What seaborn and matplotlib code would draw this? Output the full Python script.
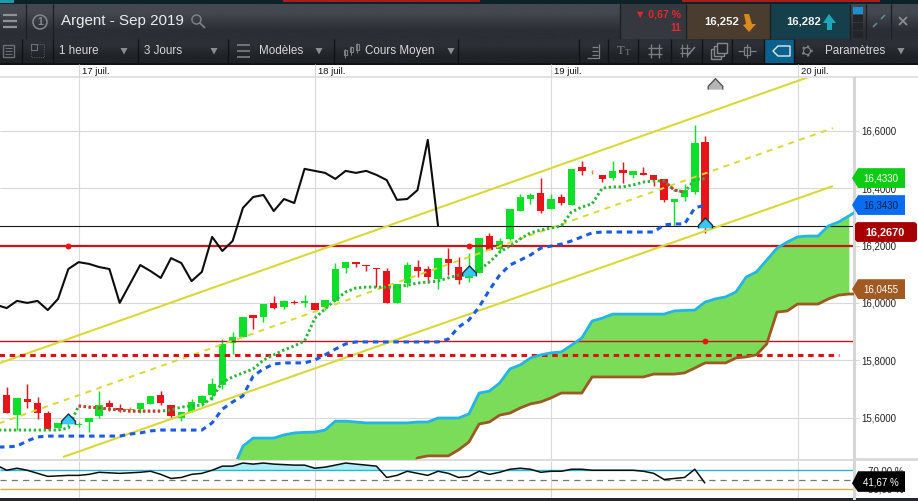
import numpy as np
import matplotlib
matplotlib.use("Agg")
import matplotlib.pyplot as plt
from matplotlib.patches import Rectangle, Polygon, Circle
from matplotlib.transforms import ScaledTranslation
import seaborn as sns

# Hourly candles, hour -8 is the first one cut by the left edge
opens = [15.620, 15.679, 15.609, 15.665, 15.651, 15.616, 15.564, 15.578, 15.575, 15.585,
         15.606, 15.651, 15.634, 15.630, 15.630, 15.648, 15.679, 15.644, 15.599, 15.620,
         15.651, 15.679, 15.714, 15.860, 15.881, 15.958, 15.951, 16.000, 15.986, 16.003,
         16.001, 16.000, 15.986, 16.007, 16.122, 16.142, 16.132, 16.122, 16.111, 16.000,
         16.069, 16.125, 16.118, 16.083, 16.153, 16.125, 16.087, 16.104, 16.233, 16.188,
         16.223, 16.320, 16.362, 16.383, 16.327, 16.369, 16.341, 16.473, 16.453, 16.446,
         16.435, 16.463, 16.446, 16.453, 16.446, 16.432, 16.352, 16.369, 16.386, 16.561]
highs = [15.686, 15.707, 15.669, 15.717, 15.672, 15.623, 15.582, 15.595, 15.585, 15.599,
         15.693, 15.662, 15.648, 15.637, 15.651, 15.676, 15.693, 15.644, 15.620, 15.665,
         15.679, 15.738, 15.874, 15.899, 15.951, 15.958, 15.996, 16.024, 16.010, 16.010,
         16.027, 16.000, 16.010, 16.139, 16.142, 16.142, 16.132, 16.122, 16.122, 16.066,
         16.142, 16.149, 16.129, 16.156, 16.191, 16.160, 16.174, 16.226, 16.244, 16.226,
         16.327, 16.379, 16.383, 16.435, 16.379, 16.379, 16.467, 16.494, 16.463, 16.446,
         16.494, 16.491, 16.460, 16.473, 16.446, 16.432, 16.362, 16.414, 16.620, 16.581]
lows = [15.620, 15.616, 15.557, 15.634, 15.595, 15.561, 15.564, 15.571, 15.568, 15.550,
        15.599, 15.623, 15.620, 15.627, 15.616, 15.648, 15.644, 15.599, 15.588, 15.620,
        15.641, 15.662, 15.700, 15.822, 15.881, 15.909, 15.933, 15.979, 15.979, 15.996,
        15.986, 15.975, 15.975, 16.007, 16.104, 16.125, 16.111, 16.055, 16.000, 16.000,
        16.055, 16.090, 16.069, 16.049, 16.097, 16.066, 16.073, 16.104, 16.184, 16.177,
        16.219, 16.320, 16.345, 16.313, 16.327, 16.341, 16.341, 16.446, 16.449, 16.421,
        16.428, 16.418, 16.435, 16.446, 16.407, 16.352, 16.268, 16.355, 16.379, 16.244]
closes = [15.686, 15.616, 15.669, 15.655, 15.616, 15.561, 15.582, 15.588, 15.578, 15.599,
          15.644, 15.637, 15.627, 15.628, 15.651, 15.676, 15.651, 15.606, 15.620, 15.655,
          15.676, 15.717, 15.857, 15.881, 15.951, 15.947, 15.996, 15.982, 16.007, 16.000,
          16.005, 15.975, 16.010, 16.118, 16.142, 16.136, 16.129, 16.118, 16.000, 16.066,
          16.132, 16.111, 16.090, 16.156, 16.139, 16.080, 16.097, 16.226, 16.184, 16.216,
          16.327, 16.369, 16.376, 16.320, 16.362, 16.348, 16.467, 16.460, 16.451, 16.432,
          16.460, 16.453, 16.460, 16.446, 16.428, 16.359, 16.362, 16.393, 16.557, 16.267]

tenkan = [15.557, 15.557, 15.557, 15.557, 15.557, 15.557, 15.557, 15.564, 15.641, 15.637,
          15.634, 15.630, 15.627, 15.623, 15.623, 15.623, 15.623, 15.627, 15.637, 15.641,
          15.644, 15.669, 15.724, 15.742, 15.756, 15.770, 15.801, 15.819, 15.836, 15.850,
          15.867, 15.947, 15.979, 16.010, 16.038, 16.052, 16.055, 16.055, 16.055, 16.055,
          16.062, 16.069, 16.073, 16.076, 16.087, 16.097, 16.097, 16.115, 16.142, 16.177,
          16.198, 16.223, 16.244, 16.254, 16.261, 16.268, 16.317, 16.334, 16.345, 16.400,
          16.404, 16.404, 16.411, 16.421, 16.425, 16.425, 16.393, 16.386, 16.430, 16.433]
kijun = [15.498, 15.498, 15.501, 15.519, 15.533, 15.536, 15.536, 15.536, 15.536, 15.536,
         15.536, 15.536, 15.536, 15.543, 15.547, 15.554, 15.557, 15.557, 15.557, 15.557,
         15.557, 15.582, 15.630, 15.655, 15.676, 15.745, 15.770, 15.787, 15.791, 15.791,
         15.791, 15.801, 15.819, 15.839, 15.857, 15.864, 15.864, 15.864, 15.864, 15.864,
         15.864, 15.864, 15.864, 15.864, 15.874, 15.916, 15.940, 15.986, 16.045, 16.097,
         16.132, 16.149, 16.167, 16.191, 16.198, 16.205, 16.216, 16.230, 16.244, 16.247,
         16.247, 16.247, 16.247, 16.247, 16.247, 16.272, 16.275, 16.275, 16.331, 16.341]
# Lagging line stops at hour 35
chikou = [15.993, 15.982, 16.007, 16.000, 16.007, 15.975, 16.014, 16.118, 16.142, 16.136,
          16.125, 16.118, 16.000, 16.066, 16.132, 16.111, 16.087, 16.156, 16.139, 16.076,
          16.108, 16.230, 16.181, 16.216, 16.331, 16.369, 16.376, 16.320, 16.362, 16.348,
          16.467, 16.460, 16.453, 16.432, 16.460, 16.453, 16.460, 16.446, 16.428, 16.359,
          16.362, 16.393, 16.568, 16.268]
# Cloud runs from hour 15 to hour 76
span_a = [15.418, 15.501, 15.529, 15.529, 15.529, 15.540, 15.547, 15.549, 15.550, 15.557,
          15.588, 15.588, 15.585, 15.582, 15.582, 15.582, 15.582, 15.582, 15.585, 15.585,
          15.599, 15.599, 15.599, 15.613, 15.686, 15.693, 15.721, 15.770, 15.784, 15.808,
          15.819, 15.826, 15.829, 15.853, 15.878, 15.937, 15.947, 15.961, 15.961, 15.961,
          15.961, 15.961, 15.961, 15.972, 15.974, 15.975, 16.003, 16.014, 16.021, 16.038,
          16.090, 16.108, 16.149, 16.191, 16.212, 16.230, 16.233, 16.233, 16.268, 16.282,
          16.303, 16.324]
span_b = [15.400, 15.400, 15.400, 15.400, 15.400, 15.400, 15.400, 15.400, 15.400, 15.400,
          15.400, 15.400, 15.400, 15.400, 15.400, 15.400, 15.400, 15.400, 15.460, 15.467,
          15.467, 15.467, 15.488, 15.515, 15.578, 15.585, 15.609, 15.616, 15.634, 15.648,
          15.655, 15.669, 15.686, 15.686, 15.686, 15.742, 15.742, 15.742, 15.742, 15.742,
          15.742, 15.752, 15.752, 15.752, 15.756, 15.773, 15.791, 15.791, 15.791, 15.808,
          15.812, 15.819, 15.857, 15.968, 15.972, 15.996, 15.996, 15.996, 16.014, 16.027,
          16.031, 16.031]
oscillator = [81.1, 70.0, 74.4, 70.0, 63.3, 56.7, 57.8, 58.9, 58.9, 61.1,
              65.6, 64.4, 63.3, 64.4, 65.6, 67.8, 61.1, 52.2, 54.4, 61.1,
              63.3, 70.0, 78.9, 78.9, 85.6, 83.3, 85.6, 83.3, 82.2, 81.1,
              81.1, 74.4, 76.7, 81.1, 85.6, 83.3, 81.1, 78.9, 54.4, 58.9,
              67.8, 63.3, 58.9, 67.8, 63.3, 54.4, 56.7, 67.8, 61.1, 65.6,
              72.2, 74.4, 72.2, 65.6, 67.8, 67.8, 72.2, 72.2, 70.0, 70.0,
              70.0, 70.0, 70.0, 67.8, 63.3, 50.0, 52.2, 54.4, 72.2, 41.67]

channel_upper_h = [-8, 71.4]
channel_upper = [15.786, 16.791]
channel_mid_h = [-8, 73.45]
channel_mid = [15.577, 16.609]
channel_lower_h = [-1.52, 73.45]
channel_lower = [15.463, 16.407]

last_price = 16.267
level_thick = 16.2
level_thin = 15.868
level_dashed = 15.818
level_dashed_end = 74
dots_h = [-1, 38, 61]
dots_y = [16.2, 16.2, 15.868]
signals_h = [-1, 38, 61]
signals_y = [15.594, 16.111, 16.280]
top_signal_h = [62]
top_signal_y = [16.762]

day_ticks = [0, 23, 46, 70]
day_labels = ["17 juil.", "18 juil.", "19 juil.", "20 juil."]
price_ticks = [15.6, 15.8, 16.0, 16.2, 16.4, 16.6]
price_labels = ["15,6000", "15,8000", "16,0000", "16,2000", "16,4000", "16,6000"]
osc_ticks = [30, 70]
osc_labels = ["30,00 %", "70,00 %"]

hours = np.arange(-8, 62)
cloud_hours = np.arange(15, 77)
chikou_hours = np.arange(-8, 36)

sns.set_theme(style="white")
plt.rcParams["font.family"] = ["Liberation Sans", "DejaVu Sans"]
plt.rcParams["lines.solid_capstyle"] = "butt"

W, H = 918, 501
fig = plt.figure(figsize=(W / 100, H / 100), dpi=100, facecolor="white")

# Toolbar and frame, in pixels
chrome = fig.add_axes([0, 0, 1, 1], zorder=0)
chrome.set_axis_off()


def box(x0, y0, x1, y1, color, **kw):
    chrome.add_patch(Rectangle((x0, y0), x1 - x0, y1 - y0, fc=color, ec="none", **kw))


def shade(x0, y0, x1, y1, top, bottom):
    grad = np.array([[matplotlib.colors.to_rgb(top)], [matplotlib.colors.to_rgb(bottom)]])
    chrome.imshow(grad, extent=(x0, x1, y1, y0), aspect="auto", interpolation="bilinear", zorder=1)


def label(x, y, s, size=8.4, color="#d8d8d8", ha="left", **kw):
    chrome.text(x, y, s, fontsize=size, color=color, ha=ha, va="center", zorder=4, **kw)


def tri(x, y, color="#8a8d92"):
    chrome.add_patch(Polygon([(x - 3.5, y - 3), (x + 3.5, y - 3), (x, y + 3.5)], fc=color, ec="none", zorder=4))


def stroke(xs, ys, color="#8a8d92", lw=1.0):
    chrome.plot(xs, ys, color=color, lw=lw, zorder=4)


box(0, 0, W, 4, "#0d2229", zorder=2)
box(0, 0, 14, 3, "#1c9aa8", zorder=3)
box(283, 0, 480, 2, "#a81c1c", zorder=3)
box(682, 0, 880, 2, "#a81c1c", zorder=3)
shade(0, 4, W, 39, "#43474f", "#2b2e34")
shade(0, 39, W, 63, "#2c2f35", "#1f2226")
box(0, 63, W, 64.5, "#101214", zorder=2)
box(0, 76, W, 78, "#e2e2e2")
box(0, 458, W, 461, "#dcdcdc")
box(0, 498, W, H, "#24272b", zorder=2)

# first row
for x in [26, 53, 620, 686, 770, 850, 866, 891]:
    stroke([x, x], [4, 39], "#1e2024", 1)
for y in [15, 21, 27]:
    stroke([3, 17], [y, y], "#8f9297", 1.6)
chrome.add_patch(Circle((40, 22), 7, fc="none", ec="#85888d", lw=1.1, zorder=4))
label(40, 22, "1", 7.5, "#85888d", ha="center", fontweight="bold")
label(61, 21, "Argent - Sep 2019", 10.9, "#ececec")
chrome.add_patch(Circle((196.5, 19.5), 4.5, fc="none", ec="#7c7f84", lw=1.1, zorder=4))
stroke([200, 205], [23, 28], "#7c7f84", 1.3)

box(620, 4, 686, 39, "#35383e", zorder=2)
box(686, 4, 770, 39, "#4a3c2e", zorder=2)
box(770, 4, 850, 39, "#153f4a", zorder=2)
label(681, 14, "\u25bc 0,67 %", 7.6, "#e0282e", ha="right", fontweight="bold")
label(681, 28, "11", 7.6, "#e0282e", ha="right", fontweight="bold")
label(704, 21.5, "16,252", 8.2, "#f4f4f4", fontweight="bold")
chrome.add_patch(Polygon([(744, 14), (749, 14), (752, 24), (756, 24), (749, 32), (743, 25), (746, 24)],
                         fc="#d98a1e", ec="none", zorder=4))
label(786, 21.5, "16,282", 8.2, "#f4f4f4", fontweight="bold")
chrome.add_patch(Polygon([(829, 14), (836, 23), (832, 23), (832, 30), (827, 30), (827, 23), (823, 23)],
                         fc="#1fa9b8", ec="none", zorder=4))
box(853, 7, 863, 14, "#1c8fd0", zorder=3)
for y in [15, 23, 31]:
    box(853, y, 863, y + 7, "#22252a", zorder=3)
stroke([873, 877], [27, 23], "#5b8a9a", 1.2)
stroke([881, 885], [19, 15], "#5b8a9a", 1.2)
stroke([899, 907], [17, 25], "#8a8d92", 1.3)
stroke([907, 899], [17, 25], "#8a8d92", 1.3)

# second row
for x in [22, 53, 138, 228, 334, 458, 579, 608, 638, 671, 702, 732, 764, 794]:
    stroke([x, x], [39, 63], "#111315", 1)
chrome.add_patch(Rectangle((3, 45), 11, 12, fc="none", ec="#6d7075", lw=1, zorder=4))
for y in [48, 51, 54]:
    stroke([5, 12], [y, y], "#6d7075", 0.8)
chrome.add_patch(Rectangle((31, 44), 6, 6, fc="none", ec="#6d7075", lw=0.8, zorder=4))
chrome.add_patch(Rectangle((31, 44), 13, 13, fc="none", ec="#6d7075", lw=0.6, ls=":", zorder=4))
label(59, 51, "1 heure")
tri(124, 51)
label(144, 51, "3 Jours")
tri(214, 51)
for y in [45, 51, 57]:
    stroke([237, 250], [y, y], "#7c7f84", 1.2)
label(259, 51, "Mod\u00e8les")
tri(319, 51)
for x, y0, y1 in [(345, 50, 57), (351, 47, 54), (357, 44, 52)]:
    chrome.add_patch(Rectangle((x - 1.5, y0), 3, y1 - y0 - 2, fc="none", ec="#7c7f84", lw=0.8, zorder=4))
    stroke([x, x], [y0 - 1, y1 + 1], "#7c7f84", 0.7)
label(365, 51, "Cours Moyen")
tri(451, 51)
stroke([587, 599, 599], [58, 58, 44], "#7c7f84", 0.9)
for y in [47, 51, 55]:
    stroke([592, 598], [y, y], "#7c7f84", 0.9)
label(617, 51, "T", 9, "#7c7f84", family="Liberation Serif")
label(625, 53, "T", 6.5, "#7c7f84", family="Liberation Serif")
for x in [651, 659]:
    stroke([x, x], [44, 58], "#7c7f84", 1)
for y in [48, 54]:
    stroke([648, 662], [y, y], "#7c7f84", 1)
for x in [682, 687]:
    stroke([x, x], [44, 57], "#7c7f84", 0.9)
for y in [48, 53]:
    stroke([680, 690], [y, y], "#7c7f84", 0.9)
stroke([687, 695], [56, 47], "#7c7f84", 1.2)
for x, y in [(711, 49), (714, 46), (717, 43)]:
    chrome.add_patch(Rectangle((x, y), 10, 10, fc="#24272b", ec="#85888d", lw=1, zorder=4))
chrome.add_patch(Rectangle((744, 47), 6, 8, fc="none", ec="#7c7f84", lw=0.9, zorder=4))
stroke([738, 744], [51, 51], "#7c7f84", 0.9)
stroke([750, 756], [51, 51], "#7c7f84", 0.9)
stroke([747, 747], [44, 58], "#7c7f84", 0.9)
box(764, 40, 794, 63, "#08618f", zorder=3)
chrome.add_patch(Polygon([(773, 51), (778, 46), (790, 46), (790, 56), (778, 56)], fc="none", ec="#e8e8e8", lw=1, zorder=4))
chrome.add_patch(Circle((807, 51), 4.5, fc="none", ec="#7c7f84", lw=1.6, ls=":", zorder=4))
chrome.add_patch(Circle((807, 51), 3.5, fc="none", ec="#7c7f84", lw=0.9, zorder=4))
label(825, 51, "Param\u00e8tres")
tri(901, 51)

chrome.set_xlim(0, W)
chrome.set_ylim(H, 0)

# Price panel
ax = fig.add_axes([0, (H - 458.5) / H, 854 / W, (458.5 - 78) / H], zorder=1)
ax.set_facecolor("white")
ax.set_xlim(-7.653, 75.5)
ax.set_ylim(15.4579, 16.7836)
ax.grid(True, color="#d9d9d9", linewidth=0.8)
ax.set_axisbelow(True)

green = "#0ee02a"
red = "#e8141c"
doji = "#e8862a"
candle_colors = []
for o, c in zip(opens, closes):
    if abs(c - o) < 0.0025:
        candle_colors.append(doji)
    else:
        candle_colors.append(green if c >= o else red)
bottoms = np.minimum(opens, closes)
heights = np.abs(np.array(closes) - np.array(opens))
ax.vlines(hours, lows, highs, colors=candle_colors, linewidth=1.05, zorder=2)
ax.bar(hours, heights, bottom=bottoms, width=0.72, color=candle_colors, linewidth=0, zorder=2)

# Cloud, then the flat levels and channels
ax.fill_between(cloud_hours[:-1], span_a[:-1], span_b[:-1], color="#7bdc5a", linewidth=0, zorder=1.5)
ax.hlines(last_price, -8, 76, colors="#1a1a1a", linewidth=0.8, zorder=2.2)
ax.hlines(level_thick, -8, 76, colors="#cc1318", linewidth=1.6, zorder=2.2)
ax.hlines(level_thin, -8, 76, colors="#cc1318", linewidth=1.0, zorder=2.2)

yellow = "#d8d838"
line_opts = dict(ax=ax, errorbar=None, legend=False, zorder=3)
sns.lineplot(x=channel_upper_h, y=channel_upper, color=yellow, linewidth=1.5, **line_opts)
sns.lineplot(x=channel_lower_h, y=channel_lower, color=yellow, linewidth=1.5, **line_opts)
sns.lineplot(x=channel_mid_h, y=channel_mid, color=yellow, linewidth=1.4, linestyle=(0, (3, 2.9)), **line_opts)
sns.lineplot(x=[-8, level_dashed_end], y=[level_dashed, level_dashed], color="#dd1111", linewidth=2.2,
             linestyle=(0, (1.8, 1.55)), **line_opts)
sns.lineplot(x=cloud_hours, y=span_a, color="#22b5e8", linewidth=2.0, **line_opts)
sns.lineplot(x=cloud_hours, y=span_b, color="#9a5a22", linewidth=2.0, **line_opts)
sns.lineplot(x=chikou_hours, y=chikou, color="#0d0d0d", linewidth=1.5, **line_opts)
sns.lineplot(x=hours, y=kijun, color="#1a5ce0", linewidth=2.2, linestyle=(0, (1.8, 1.55)), **line_opts)
sns.lineplot(x=hours, y=tenkan, color="#2bb53c", linewidth=2.1, linestyle=(0, (0.8, 0.9)), **line_opts)
sns.lineplot(x=hours[8:17], y=tenkan[8:17], color="#e0303a", linewidth=2.1, linestyle=(0, (0.8, 0.9)), **line_opts)
sns.lineplot(x=hours[65:68], y=tenkan[65:68], color="#e0303a", linewidth=2.1, linestyle=(0, (0.8, 0.9)), **line_opts)

ax.scatter(dots_h, dots_y, s=18, color="#ee1111", linewidth=0, zorder=4)
house = [(-1, -0.7), (-1, -0.25), (0, 0.8), (1, -0.25), (1, -0.7)]
ax.scatter(signals_h, signals_y, s=100, marker=house, color="#35c8f0", edgecolor="#16323f", linewidth=1.0, zorder=5)
ax.scatter(top_signal_h, top_signal_y, s=110, marker=house, color="#b5b5b5", edgecolor="#555555", linewidth=1.0, zorder=5,
           clip_on=False)

ax.set_xlabel("")
ax.set_ylabel("")
ax.set_xticks(day_ticks)
ax.set_xticklabels(day_labels)
ax.set_yticks(price_ticks)
ax.set_yticklabels(price_labels)
ax.xaxis.tick_top()
ax.yaxis.tick_right()
ax.tick_params(axis="x", length=10, width=0.8, color="#d9d9d9", pad=-8.6, labelsize=6.8, labelcolor="#111111")
ax.tick_params(axis="y", length=3.5, width=0.8, color="#d9d9d9", pad=1.5, labelsize=7, labelcolor="#222222")
shift = ScaledTranslation(3 / 100, 0, fig.dpi_scale_trans)
for tick_label in ax.get_xticklabels():
    tick_label.set_ha("left")
    tick_label.set_transform(tick_label.get_transform() + shift)
for name in ["top", "left", "bottom"]:
    ax.spines[name].set_visible(False)
ax.spines["right"].set_color("#d6d6d6")
ax.spines["right"].set_linewidth(2.2)


def price_tag(value, text, face, text_color):
    # flag with its point on the axis
    tr = ax.get_yaxis_transform()
    dy = 0.0345
    pts = [(852 / 854, value), (858 / 854, value + dy), (905 / 854, value + dy),
           (905 / 854, value - dy), (858 / 854, value - dy)]
    ax.add_patch(Polygon(pts, transform=tr, fc=face, ec="none", clip_on=False, zorder=8))
    ax.text(881 / 854, value, text, transform=tr, fontsize=7, color=text_color, ha="center", va="center", zorder=9)


price_tag(16.435, "16,4330", "#0ecc14", "white")
price_tag(16.341, "16,3430", "#0a6cf0", "#10204a")
price_tag(16.048, "16,0455", "#a05a22", "white")

tr = ax.get_yaxis_transform()
top, bot = 16.2815, 16.2125
ax.add_patch(Polygon([(855 / 854, top - 0.007), (857 / 854, top), (915 / 854, top), (917 / 854, top - 0.007),
                      (917 / 854, bot + 0.007), (915 / 854, bot), (857 / 854, bot), (855 / 854, bot + 0.007)],
                     transform=tr, fc="#a80000", ec="none", clip_on=False, zorder=8))
ax.text(885.5 / 854, 16.247, "16,2670", transform=tr, fontsize=7.8, color="white", fontweight="bold",
        ha="center", va="center", zorder=9)

# Oscillator panel
ax2 = fig.add_axes([0, (H - 498) / H, 854 / W, 37 / H], zorder=1)
ax2.set_facecolor("white")
ax2.set_xlim(-7.653, 75.5)
ax2.set_ylim(10, 90)
ax2.grid(True, axis="x", color="#d9d9d9", linewidth=0.8)
ax2.set_axisbelow(True)
ax2.fill_between(hours, oscillator, 70, where=np.array(oscillator) >= 70, interpolate=True, color="#aaeefa", linewidth=0)
ax2.axhline(70, color="#25b8d0", linewidth=1.0)
ax2.axhline(50, color="#777777", linewidth=0.9, linestyle=(0, (5, 4)))
ax2.axhline(30, color="#e8a83c", linewidth=1.0)
sns.lineplot(x=hours, y=oscillator, color="#0d0d0d", linewidth=1.1, ax=ax2, errorbar=None, legend=False)
ax2.set_xlabel("")
ax2.set_ylabel("")
ax2.set_xticks(day_ticks)
ax2.set_xticklabels([])
ax2.set_yticks(osc_ticks)
ax2.set_yticklabels(osc_labels)
ax2.yaxis.tick_right()
ax2.tick_params(axis="x", length=0)
ax2.tick_params(axis="y", length=0, pad=10, labelsize=7, labelcolor="#222222")
for name in ["top", "left", "bottom"]:
    ax2.spines[name].set_visible(False)
ax2.spines["right"].set_color("#d6d6d6")
ax2.spines["right"].set_linewidth(2.2)

tr2 = ax2.get_yaxis_transform()
ax2.add_patch(Polygon([(852 / 854, 41.67), (858 / 854, 67.8), (905 / 854, 67.8), (905 / 854, 23.3), (858 / 854, 23.3)],
                      transform=tr2, fc="black", ec="none", clip_on=False, zorder=8))
ax2.text(881 / 854, 44, "41,67 %", transform=tr2, fontsize=7, color="white", ha="center", va="center", zorder=9)

fig.savefig("out.png", dpi=100)
